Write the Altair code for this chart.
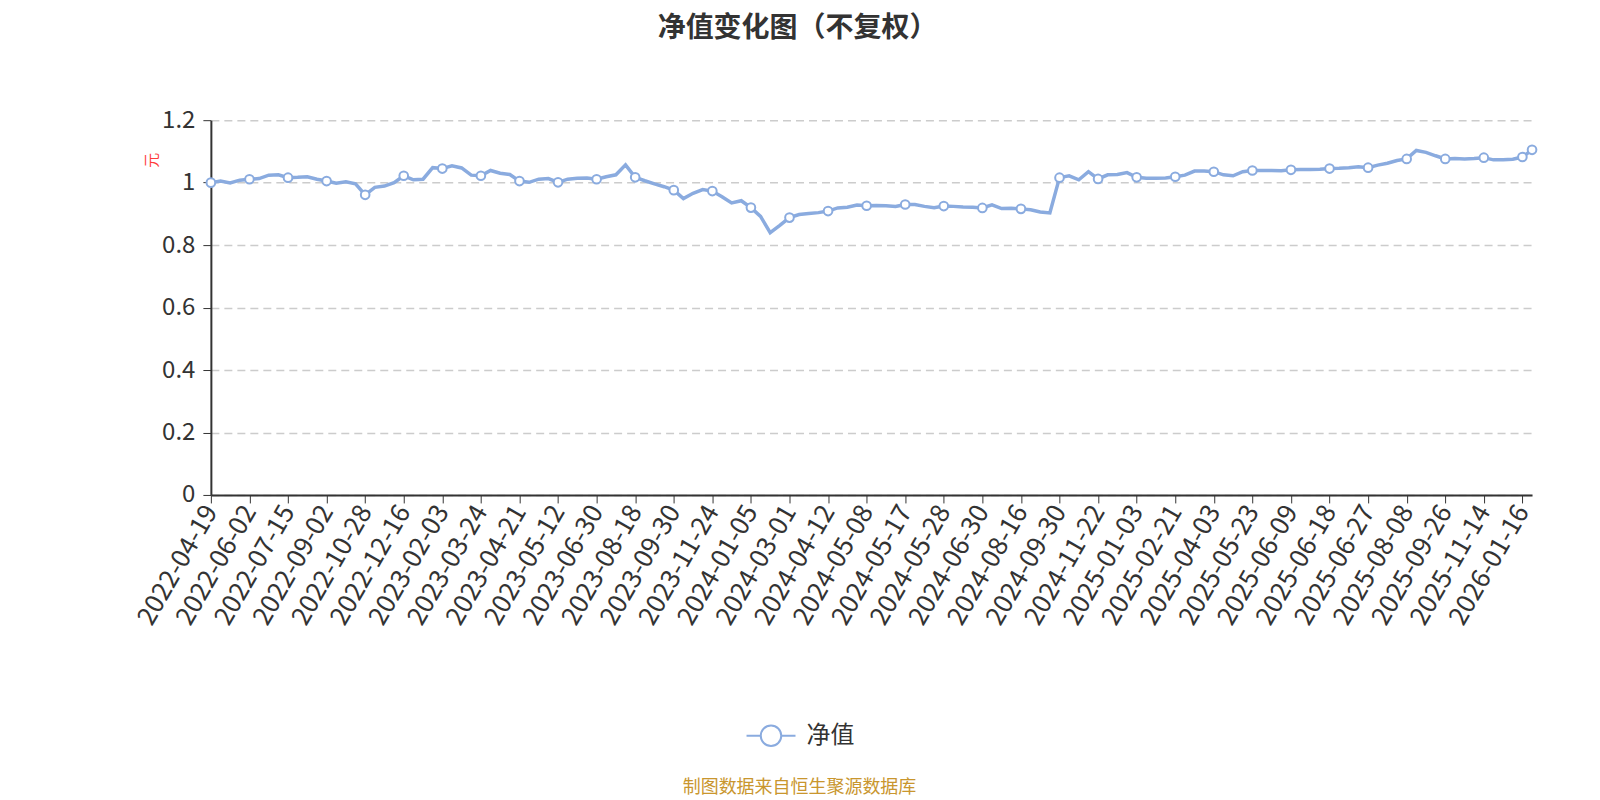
import numpy as np
import pandas as pd
import altair as alt

# tick labels on the category axis (one every 4 data points)
dates = [
    "2022-04-19", "2022-06-02", "2022-07-15", "2022-09-02", "2022-10-28",
    "2022-12-16", "2023-02-03", "2023-03-24", "2023-04-21", "2023-05-12",
    "2023-06-30", "2023-08-18", "2023-09-30", "2023-11-24", "2024-01-05",
    "2024-03-01", "2024-04-12", "2024-05-08", "2024-05-17", "2024-05-28",
    "2024-06-30", "2024-08-16", "2024-09-30", "2024-11-22", "2025-01-03",
    "2025-02-21", "2025-04-03", "2025-05-23", "2025-06-09", "2025-06-18",
    "2025-06-27", "2025-08-08", "2025-09-26", "2025-11-14", "2026-01-16",
]

# net value (4 points per labelled step)
nav = [
    1.000, 1.005, 0.999, 1.008,
    1.011, 1.013, 1.024, 1.025,
    1.016, 1.017, 1.019, 1.011,
    1.005, 0.998, 1.003, 0.996,
    0.961, 0.985, 0.989, 1.000,
    1.022, 1.009, 1.011, 1.048,
    1.045, 1.054, 1.047, 1.024,
    1.022, 1.039, 1.030, 1.026,
    1.005, 1.001, 1.011, 1.013,
    1.001, 1.011, 1.014, 1.015,
    1.011, 1.019, 1.025, 1.057,
    1.017, 1.006, 0.996, 0.987,
    0.976, 0.949, 0.966, 0.978,
    0.973, 0.955, 0.935, 0.942,
    0.920, 0.892, 0.840, 0.863,
    0.888, 0.898, 0.901, 0.904,
    0.909, 0.919, 0.921, 0.928,
    0.926, 0.927, 0.926, 0.924,
    0.930, 0.930, 0.924, 0.920,
    0.925, 0.924, 0.922, 0.921,
    0.919, 0.929, 0.917, 0.918,
    0.916, 0.913, 0.906, 0.903,
    1.016, 1.022, 1.009, 1.035,
    1.012, 1.025, 1.026, 1.032,
    1.017, 1.014, 1.014, 1.015,
    1.019, 1.024, 1.037, 1.037,
    1.035, 1.025, 1.022, 1.035,
    1.039, 1.039, 1.039, 1.038,
    1.041, 1.042, 1.042, 1.043,
    1.045, 1.046, 1.048, 1.051,
    1.048, 1.056, 1.062, 1.071,
    1.076, 1.103, 1.097, 1.086,
    1.076, 1.077, 1.076, 1.077,
    1.080, 1.073, 1.073, 1.075,
    1.082, 1.105,
]

y_ticks = [0, 0.2, 0.4, 0.6, 0.8, 1.0, 1.2]

STEP = 4
FONT = "Noto Sans CJK SC"
LINE_COLOR = "#8aabdf"
W, H = 1322, 375

df = pd.DataFrame({"pos": np.arange(len(nav)) / STEP, "nav": nav})
df["marker"] = [(i % STEP == 0) or (i == len(nav) - 1) for i in range(len(nav))]

label_expr = "[" + ",".join(f"'{d}'" for d in dates) + "][datum.value]"

x_enc = alt.X(
    "pos:Q",
    scale=alt.Scale(domain=[0, (len(nav) - 1) / STEP], nice=False, zero=False),
    axis=alt.Axis(
        values=list(range(len(dates))), labelExpr=label_expr, labelAngle=300,
        labelFontSize=26, labelColor="#333", labelFont=FONT, labelPadding=4,
        tickSize=8, tickColor="#333", domainColor="#333", domainWidth=2,
        grid=False, title=None, labelOverlap=False, labelBound=False,
        labelFlush=False,
    ),
)
y_enc = alt.Y(
    "nav:Q",
    scale=alt.Scale(domain=[0, 1.2], nice=False),
    axis=alt.Axis(
        values=y_ticks, format=".1~f", labelFontSize=24, labelColor="#333",
        labelFont=FONT, labelPadding=8, tickSize=8, tickColor="#333",
        domainColor="#333", domainWidth=2, grid=True, gridColor="#cccccc",
        gridDash=[8, 5], gridWidth=1.5, title=None,
    ),
)

line = alt.Chart(df).mark_line(color=LINE_COLOR, strokeWidth=3.5).encode(x=x_enc, y=y_enc)
points = alt.Chart(df).transform_filter("datum.marker").mark_point(
    shape="circle", filled=True, fill="white", stroke=LINE_COLOR,
    strokeWidth=2, size=75, opacity=1,
).encode(x=x_enc, y=y_enc)

one = pd.DataFrame({"t": [""]})


def label(text, x, y, **kw):
    return alt.Chart(pd.DataFrame({"t": [text]})).mark_text(font=FONT, **kw).encode(
        text="t:N", x=alt.value(x), y=alt.value(y)
    )


title = label("净值变化图（不复权）", 587, -91, fontSize=28, fontWeight="bold",
              color="#333", align="center", baseline="middle")
unit = label("元", -59, 40, fontSize=15, color="#ff3b3b", angle=270,
             align="center", baseline="middle")
footer = label("制图数据来自恒生聚源数据库", 589, 668, fontSize=18, color="#c9962e",
               align="center", baseline="middle")
legend_text = label("净值", 596, 616, fontSize=24, color="#333",
                    align="left", baseline="middle")
legend_line = alt.Chart(one).mark_rule(color=LINE_COLOR, strokeWidth=2).encode(
    x=alt.value(536), x2=alt.value(585), y=alt.value(616)
)
legend_dot = alt.Chart(one).mark_point(
    shape="circle", filled=True, fill="white", stroke=LINE_COLOR,
    strokeWidth=2, size=420, opacity=1,
).encode(x=alt.value(560.5), y=alt.value(616))

chart = alt.layer(
    line, points, title, unit, footer, legend_line, legend_dot, legend_text
).properties(
    width=W, height=H,
    autosize=alt.AutoSizeParams(type="none"),
    padding={"left": 203, "top": 112, "right": 60, "bottom": 305},
).configure_view(stroke=None)

chart.save("out.html", embed_options={"renderer": "svg", "actions": False})
